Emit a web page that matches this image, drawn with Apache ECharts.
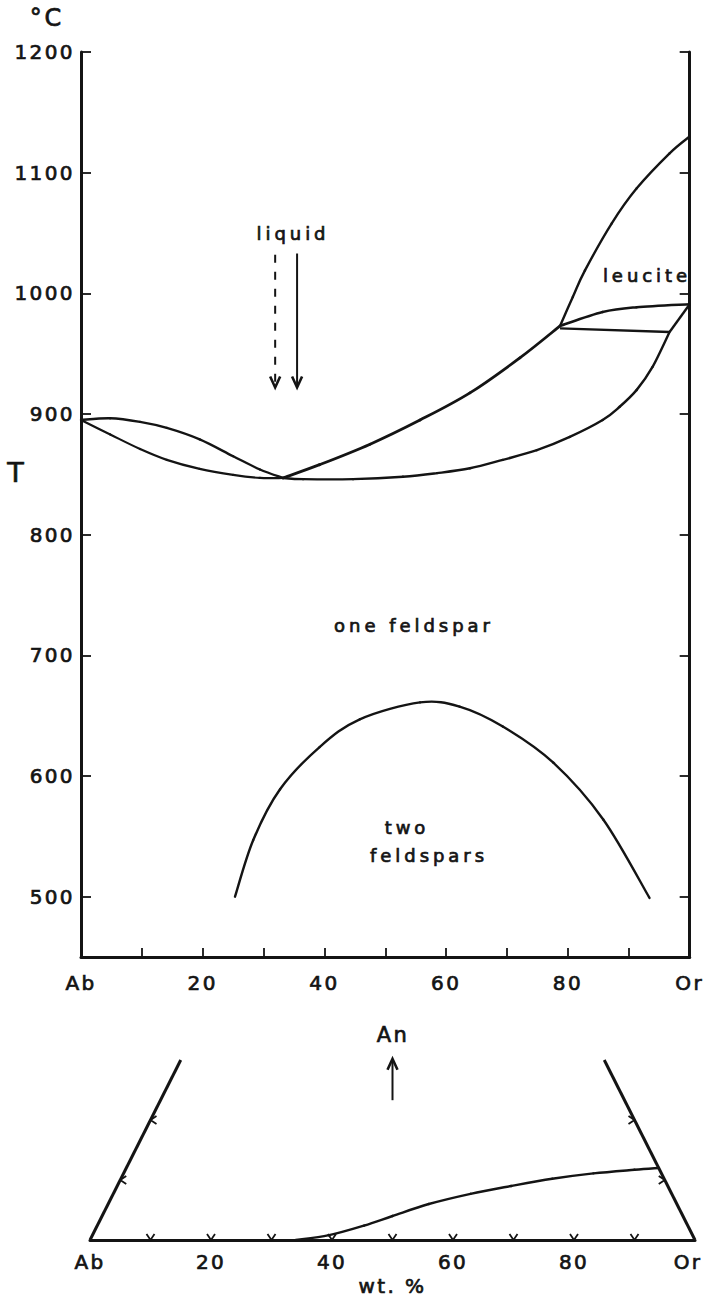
<!DOCTYPE html>
<html>
<head>
<meta charset="utf-8">
<title>Ab–Or phase diagram</title>
<script src="https://cdn.jsdelivr.net/npm/echarts@6/dist/echarts.min.js"></script>
<style>
  html, body { margin: 0; padding: 0; background: #ffffff; }
  #chart { width: 705px; height: 1301px; }
  /* hand-lettered look: widened spacing, a little more for the field names */
  #chart text { letter-spacing: 0.12em; }
  #chart text[style*="18px"] { letter-spacing: 0.22em; }
</style>
</head>
<body>
<div id="chart"></div>
<script>
// ---- composition axis (wt. % Or) ----
const wtTicks = [10, 20, 30, 40, 50, 60, 70, 80, 90];
const wtLabels = [0, 20, 40, 60, 80, 100];
const endMembers = { 0: 'Ab', 100: 'Or' };

// ---- temperature axis (°C) ----
const tempTicks = [500, 600, 700, 800, 900, 1000, 1100, 1200];

// ---- T–X section: [wt. % Or, °C] ----
const liquidusAb = [[0, 895], [4.8, 896.5], [9.7, 893.5], [14.1, 888.5], [19.5, 879], [25, 865], [29.4, 854], [33.2, 847]];
const solidusAb = [[0, 895], [4.8, 883], [9.7, 871], [14.1, 862], [19.5, 854.5], [25, 849.5], [29.4, 847], [33.2, 847]];
const liquidusOr = [[33.2, 847], [39.2, 858], [47.5, 875], [55.7, 895], [63.9, 917.5], [72.1, 946.5], [78.7, 973]];
const solidusOr = [[33.2, 847], [36.5, 846], [44.7, 846], [52.9, 848], [58.5, 851], [63.9, 855], [69.3, 862], [74.9, 870], [80.3, 881], [85.7, 895], [88.5, 906], [91.3, 920], [93.9, 939], [96.7, 968]];
const leuciteLiquidus = [[78.7, 973], [80.8, 997], [82.8, 1019], [87.2, 1058], [91.3, 1087], [96.7, 1116], [100, 1130]];
const leuciteLower = [[78.7, 973], [85.7, 984.5], [91.3, 988.5], [100, 991]];
const peritecticTie = [[78.7, 971], [96.7, 968]];
const leuciteSolidus = [[96.7, 968], [100, 991]];
const solvus = [[25.3, 500], [28.3, 547], [32.7, 589], [39.2, 624], [45.8, 647], [55.7, 661], [62.2, 657.5], [69.3, 641], [77.6, 611], [85.8, 564], [93.4, 499]];

// liquid compositions: [wt. % Or, arrow start °C, arrow tip °C]
const liquidArrowDashed = [31.9, 1032, 922];
const liquidArrowSolid = [35.5, 1033, 922];

// ---- ternary base section: [wt. % Or along Ab–Or, wt. % An] ----
const sideTop = 30;
const anTicks = [10, 20];
const anBoundary = [[34, 0], [39.5, 0.8], [45.3, 2.4], [50, 4.0], [56, 6.0], [62.9, 7.7], [69.6, 9.0], [76.4, 10.2], [83.2, 11.1], [90, 11.7], [94, 12.0]];
const anArrow = [50, 23.3, 30.2];

const INK = '#141414';
const FONT = 'DejaVu Sans';
const PEN = 0.7;   // extra stroke on lettering

// triangle edges towards the An apex
const edgeAb = [[0, 0], [sideTop / 2, sideTop]];
const edgeOr = [[100, 0], [100 - sideTop / 2, sideTop]];
const edgeTicks = wtTicks.map(v => [v, 0])
  .concat(anTicks.map(a => [a / 2, a]))
  .concat(anTicks.map(a => [100 - a / 2, a]));

// Catmull-Rom segment from point i to i+1, computed in pixel space
function splineSegment(width) {
  return function (params, api) {
    const i = params.dataIndexInside, n = params.dataInsideLength;
    if (i >= n - 1) return null;
    const P = k => {
      const j = Math.max(0, Math.min(n - 1, k));
      return api.coord([api.value(0, j), api.value(1, j)]);
    };
    const p0 = P(i - 1), p1 = P(i), p2 = P(i + 1), p3 = P(i + 2);
    const t = 1 / 6;
    return {
      type: 'bezierCurve',
      shape: {
        x1: p1[0], y1: p1[1], x2: p2[0], y2: p2[1],
        cpx1: p1[0] + (p2[0] - p0[0]) * t, cpy1: p1[1] + (p2[1] - p0[1]) * t,
        cpx2: p2[0] - (p3[0] - p1[0]) * t, cpy2: p2[1] - (p3[1] - p1[1]) * t
      },
      style: { stroke: INK, lineWidth: width, fill: null, lineCap: 'round' }
    };
  };
}

function curve(data, width, xi, yi) {
  return {
    type: 'custom', xAxisIndex: xi || 0, yAxisIndex: yi || 0, silent: true, clip: false,
    encode: { x: 0, y: 1 }, data: data, renderItem: splineSegment(width)
  };
}

function straight(data, width, xi, yi) {
  return {
    type: 'line', xAxisIndex: xi || 0, yAxisIndex: yi || 0, data: data, showSymbol: false, silent: true,
    lineStyle: { color: INK, width: width }
  };
}

function renderArrow(dashed) {
  return function (params, api) {
    const start = api.coord([api.value(0), api.value(1)]);
    const tip = api.coord([api.value(0), api.value(2)]);
    const dir = tip[1] > start[1] ? -1 : 1;
    return {
      type: 'group',
      children: [
        { type: 'line', shape: { x1: start[0], y1: start[1], x2: tip[0], y2: tip[1] + dir * 2 },
          style: { stroke: INK, lineWidth: 2, lineDash: dashed ? [8, 9] : null } },
        { type: 'polyline', shape: { points: [[tip[0] - 5, tip[1] + dir * 11], [tip[0], tip[1]], [tip[0] + 5, tip[1] + dir * 11]] },
          style: { stroke: INK, lineWidth: 2.6, fill: 'none' } }
      ]
    };
  };
}

function renderChevron(params, api) {
  const x = api.value(0), an = api.value(1);
  const p = api.coord([x, an]);
  const a = 4, b = 6;
  let pts;
  if (an === 0) pts = [[p[0] - a, p[1] - b], p, [p[0] + a, p[1] - b]];
  else if (x < 50) pts = [[p[0] + b, p[1] - a], p, [p[0] + b, p[1] + a]];
  else pts = [[p[0] - b, p[1] - a], p, [p[0] - b, p[1] + a]];
  return { type: 'polyline', shape: { points: pts }, style: { stroke: INK, lineWidth: 1.8, fill: 'none' } };
}

const labelStyle = { color: INK, fontFamily: FONT, fontSize: 20, textBorderColor: INK, textBorderWidth: PEN };

function text(x, y, str, size) {
  return { type: 'text', x: x, y: y, silent: true,
    style: { text: str, fill: INK, stroke: INK, lineWidth: PEN, font: size + 'px "' + FONT + '"',
      textAlign: 'center', textVerticalAlign: 'middle' } };
}

const chart = echarts.init(document.getElementById('chart'), null, { renderer: 'svg' });

chart.setOption({
  animation: false,
  backgroundColor: '#ffffff',
  grid: [
    { left: 81, right: 15, top: 52, height: 905 },
    { left: 90, right: 10, top: 1030, height: 210 }
  ],
  xAxis: [
    {
      gridIndex: 0, type: 'value', min: 0, max: 100,
      axisLine: { show: true, onZero: false, lineStyle: { color: INK, width: 3 } },
      axisTick: { show: true, inside: true, length: 9, customValues: wtTicks, lineStyle: { color: INK, width: 1.8 } },
      axisLabel: Object.assign({ customValues: wtLabels, margin: 16,
        formatter: v => endMembers[v] || String(v) }, labelStyle),
      splitLine: { show: false }
    },
    {
      gridIndex: 1, type: 'value', min: 0, max: 100,
      axisLine: { show: true, onZero: false, lineStyle: { color: INK, width: 3 } },
      axisTick: { show: false },
      axisLabel: Object.assign({ customValues: wtLabels, margin: 12,
        formatter: v => v === 100 ? '{or|Or}' : (endMembers[v] || String(v)),
        rich: { or: { padding: [0, 14, 0, 0], color: INK, fontFamily: FONT, fontSize: 20,
          textBorderColor: INK, textBorderWidth: PEN } } }, labelStyle),
      splitLine: { show: false },
      name: 'wt. %', nameLocation: 'middle', nameGap: 36,
      nameTextStyle: { color: INK, fontFamily: FONT, fontSize: 20, textBorderColor: INK, textBorderWidth: PEN }
    }
  ],
  yAxis: [
    {
      gridIndex: 0, type: 'value', min: 450, max: 1200, position: 'left',
      axisLine: { show: true, onZero: false, lineStyle: { color: INK, width: 3 } },
      axisTick: { show: true, inside: true, length: 10, customValues: tempTicks, lineStyle: { color: INK, width: 1.8 } },
      axisLabel: Object.assign({ customValues: tempTicks, margin: 6, formatter: v => String(v) }, labelStyle),
      splitLine: { show: false }
    },
    {
      gridIndex: 0, type: 'value', min: 450, max: 1200, position: 'right',
      axisLine: { show: true, onZero: false, lineStyle: { color: INK, width: 3 } },
      axisTick: { show: true, inside: true, length: 10, customValues: tempTicks, lineStyle: { color: INK, width: 1.8 } },
      axisLabel: { show: false },
      splitLine: { show: false }
    },
    {
      gridIndex: 1, type: 'value', min: 0, max: 35, show: false
    }
  ],
  graphic: [
    text(47, 18, '°C', 24),
    text(17, 472, 'T', 27),
    text(293, 233, 'liquid', 18),
    text(647, 275, 'leucite', 18),
    text(414, 625, 'one feldspar', 18),
    text(407, 827, 'two', 18),
    text(429, 855, 'feldspars', 18),
    text(393, 1035, 'An', 21)
  ],
  series: [
    curve(liquidusAb, 2.4),
    curve(solidusAb, 2.2),
    curve(liquidusOr, 2.8),
    curve(solidusOr, 2.4),
    curve(leuciteLiquidus, 2.4),
    curve(leuciteLower, 2.6),
    straight(peritecticTie, 2.4),
    straight(leuciteSolidus, 2.4),
    curve(solvus, 2.4),
    {
      type: 'custom', xAxisIndex: 0, yAxisIndex: 0, silent: true, clip: false,
      encode: { x: 0, y: [1, 2] }, data: [liquidArrowDashed], renderItem: renderArrow(true)
    },
    {
      type: 'custom', xAxisIndex: 0, yAxisIndex: 0, silent: true, clip: false,
      encode: { x: 0, y: [1, 2] }, data: [liquidArrowSolid], renderItem: renderArrow(false)
    },
    straight(edgeAb, 3, 1, 2),
    straight(edgeOr, 3, 1, 2),
    curve(anBoundary, 2.4, 1, 2),
    {
      type: 'custom', xAxisIndex: 1, yAxisIndex: 2, silent: true, clip: false,
      encode: { x: 0, y: 1 }, data: edgeTicks, renderItem: renderChevron
    },
    {
      type: 'custom', xAxisIndex: 1, yAxisIndex: 2, silent: true, clip: false,
      encode: { x: 0, y: [1, 2] }, data: [anArrow], renderItem: renderArrow(false)
    }
  ]
});
</script>
</body>
</html>
